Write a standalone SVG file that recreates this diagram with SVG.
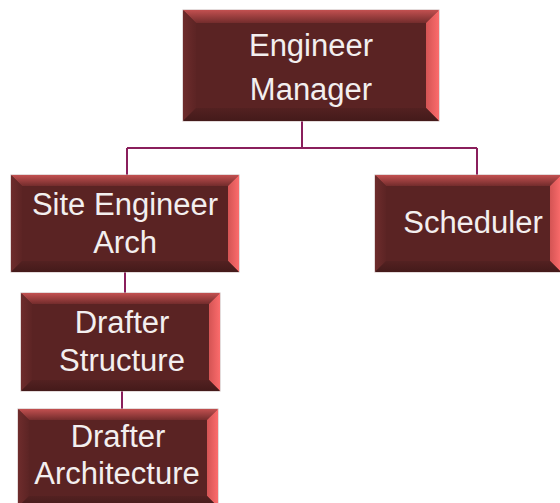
<svg xmlns="http://www.w3.org/2000/svg" width="560" height="503" viewBox="0 0 560 503">
  <defs>
    <style>
      .face { fill: #5a2323; stroke: #c9b8b8; stroke-width: 1; }
      .bt { fill: url(#gTop); }
      .br { fill: url(#gRight); }
      .bl { fill: url(#gLeft); }
      .bb { fill: url(#gBottom); }
      .lbl { font-family: "Liberation Sans", Arial, sans-serif; font-size: 31px; fill: #f3efef; text-anchor: middle; }
      .conn { fill: none; stroke: #8a1f5c; stroke-width: 2; }
    </style>
    <linearGradient id="gTop" x1="0" y1="0" x2="0" y2="1">
      <stop offset="0" stop-color="#c25050"/>
      <stop offset="1" stop-color="#732c2c"/>
    </linearGradient>
    <linearGradient id="gRight" x1="0" y1="0" x2="1" y2="0">
      <stop offset="0" stop-color="#d45454"/>
      <stop offset="1" stop-color="#fb6c6c"/>
    </linearGradient>
    <linearGradient id="gLeft" x1="0" y1="0" x2="1" y2="0">
      <stop offset="0" stop-color="#6e2c2c"/>
      <stop offset="1" stop-color="#5c2424"/>
    </linearGradient>
    <linearGradient id="gBottom" x1="0" y1="0" x2="0" y2="1">
      <stop offset="0" stop-color="#532121"/>
      <stop offset="1" stop-color="#441a1a"/>
    </linearGradient>
  </defs>

  <rect width="560" height="503" fill="#ffffff"/>

  <g id="connectors">
    <path class="conn" d="M302 121 V148 M127 148 H477 M127 148 V175 M477 148 V175"/>
    <path class="conn" d="M125 272 V293"/>
    <path class="conn" d="M122 391 V409"/>
  </g>

  <!-- Engineer Manager: x183 y10 w256 h111, bevel 13 -->
  <g id="engineer-manager">
    <rect class="face" x="183" y="10" width="256" height="111"/>
    <polygon class="bt" points="183,10 439,10 426,23 196,23"/>
    <polygon class="br" points="439,10 439,121 426,108 426,23"/>
    <polygon class="bl" points="183,10 196,23 196,108 183,121"/>
    <polygon class="bb" points="183,121 196,108 426,108 439,121"/>
    <text class="lbl" x="311" y="56">Engineer</text>
    <text class="lbl" x="311" y="100">Manager</text>
  </g>

  <!-- Site Engineer Arch: x11 y175 w228 h97 -->
  <g id="site-engineer-arch">
    <rect class="face" x="11" y="175" width="228" height="97"/>
    <polygon class="bt" points="11,175 239,175 228,186 22,186"/>
    <polygon class="br" points="239,175 239,272 228,261 228,186"/>
    <polygon class="bl" points="11,175 22,186 22,261 11,272"/>
    <polygon class="bb" points="11,272 22,261 228,261 239,272"/>
    <text class="lbl" x="125" y="215">Site Engineer</text>
    <text class="lbl" x="125" y="253">Arch</text>
  </g>

  <!-- Scheduler: x375 y175 w186 h97 -->
  <g id="scheduler">
    <rect class="face" x="375" y="175" width="186" height="97"/>
    <polygon class="bt" points="375,175 561,175 550,186 386,186"/>
    <polygon class="br" points="561,175 561,272 550,261 550,186"/>
    <polygon class="bl" points="375,175 386,186 386,261 375,272"/>
    <polygon class="bb" points="375,272 386,261 550,261 561,272"/>
    <text class="lbl" x="473" y="233">Scheduler</text>
  </g>

  <!-- Drafter Structure: x21 y293 w199 h98 -->
  <g id="drafter-structure">
    <rect class="face" x="21" y="293" width="199" height="98"/>
    <polygon class="bt" points="21,293 220,293 209,304 32,304"/>
    <polygon class="br" points="220,293 220,391 209,380 209,304"/>
    <polygon class="bl" points="21,293 32,304 32,380 21,391"/>
    <polygon class="bb" points="21,391 32,380 209,380 220,391"/>
    <text class="lbl" x="122" y="333">Drafter</text>
    <text class="lbl" x="122" y="371">Structure</text>
  </g>

  <!-- Drafter Architecture: x18 y409 w200 h98 -->
  <g id="drafter-architecture">
    <rect class="face" x="18" y="409" width="200" height="98"/>
    <polygon class="bt" points="18,409 218,409 207,420 29,420"/>
    <polygon class="br" points="218,409 218,507 207,496 207,420"/>
    <polygon class="bl" points="18,409 29,420 29,496 18,507"/>
    <polygon class="bb" points="18,507 29,496 207,496 218,507"/>
    <text class="lbl" x="118" y="447">Drafter</text>
    <text class="lbl" x="117" y="484">Architecture</text>
  </g>
</svg>
